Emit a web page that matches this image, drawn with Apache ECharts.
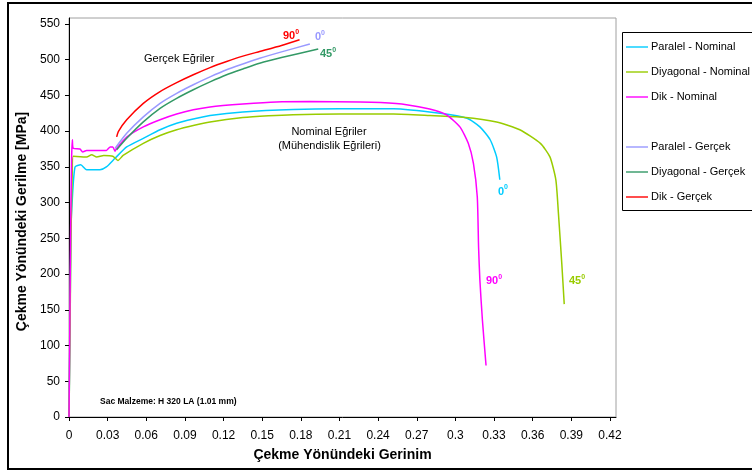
<!DOCTYPE html>
<html><head><meta charset="utf-8">
<script src="https://cdn.jsdelivr.net/npm/echarts@6/dist/echarts.min.js"></script>
<style>html,body{margin:0;padding:0;background:#fff}#c{width:752px;height:474px}</style>
</head><body><div id="c"></div>
<script>
// ---- data (strain [-], stress [MPa]) ----
const xTicks = [0,0.03,0.06,0.09,0.12,0.15,0.18,0.21,0.24,0.27,0.3,0.33,0.36,0.39,0.42];
const yTicks = [0,50,100,150,200,250,300,350,400,450,500,550];

const paralelNominalStrain = [0,0.0008,0.0015,0.0026,0.0047,0.0091,0.0137,0.024,0.029,0.0357,0.0448,0.0577,0.0707,0.0836,0.0965,0.1095,0.135,0.174,0.21,0.252,0.288,0.309,0.319,0.327,0.332,0.3345];
const paralelNominalStress = [0,130,260,306,350,353,346,346,350,362,378,390,402,411,417,422,427,430.5,431.5,431.5,425,418,406,388,364,332];

const diyagonalNominalStrain = [0,0.0008,0.0015,0.0025,0.0033,0.0137,0.0176,0.0215,0.027,0.034,0.038,0.042,0.0577,0.0707,0.0836,0.0965,0.1095,0.135,0.155,0.174,0.21,0.252,0.28,0.306,0.332,0.35,0.366,0.3734,0.378,0.38,0.3826,0.3845];
const diyagonalNominalStress = [0,120,250,340,365,364,367,364,366,365,359,366,383,394,402,408,413,419,421.5,423,424,424,422,419.6,413,402,383,364,332,285,215,158];

const dikNominalStrain = [0,0.0005,0.0012,0.002,0.0026,0.0033,0.0085,0.0106,0.0137,0.029,0.032,0.034,0.0357,0.037,0.045,0.0577,0.0707,0.0836,0.0965,0.1095,0.135,0.161,0.187,0.226,0.242,0.262,0.28,0.293,0.3035,0.31,0.314,0.317,0.318,0.319,0.321,0.3238];
const dikNominalStress = [0,100,250,360,388,376,375,371,373,373,378,378,372,376,392,406,416,424,430,434,438,441,441.5,441,440,437,431,423,406,383,355,308,238,192,135,72];

const paralelGercekStrain = [0.0357,0.0448,0.0577,0.0707,0.0836,0.0965,0.1095,0.1224,0.135,0.148,0.165,0.187];
const paralelGercekStress = [376,397,420,439,453,465,476,486,494,502,511,522];

const diyagonalGercekStrain = [0.037,0.0448,0.0577,0.0707,0.0836,0.0965,0.1095,0.1224,0.135,0.148,0.165,0.1935];
const diyagonalGercekStress = [374,390,413,432,446,458,469,479,487,495,503,515];

const dikGercekStrain = [0.037,0.0383,0.0448,0.0577,0.0707,0.0836,0.0965,0.1095,0.1224,0.135,0.148,0.165,0.179];
const dikGercekStress = [392,399.5,416,439,455.5,468,479,489,497.5,505,511.5,520,528];

const names1 = ['Paralel - Nominal','Diyagonal - Nominal','Dik - Nominal'];
const names2 = ['Paralel - Gerçek','Diyagonal - Gerçek','Dik - Gerçek'];
const colors = {
  'Paralel - Nominal':'#00CCFF','Diyagonal - Nominal':'#99CC00','Dik - Nominal':'#FF00FF',
  'Paralel - Gerçek':'#9999FF','Diyagonal - Gerçek':'#339966','Dik - Gerçek':'#FF0000'
};

const pairs = (xs, ys) => xs.map((x,i)=>[x, ys[i]]);
const seriesDefs = [
  ['Paralel - Nominal', pairs(paralelNominalStrain, paralelNominalStress)],
  ['Diyagonal - Nominal', pairs(diyagonalNominalStrain, diyagonalNominalStress)],
  ['Dik - Nominal', pairs(dikNominalStrain, dikNominalStress)],
  ['Paralel - Gerçek', pairs(paralelGercekStrain, paralelGercekStress)],
  ['Diyagonal - Gerçek', pairs(diyagonalGercekStrain, diyagonalGercekStress)],
  ['Dik - Gerçek', pairs(dikGercekStrain, dikGercekStress)]
];

const FONT = 'Liberation Sans, Arial, sans-serif';
const chart = echarts.init(document.getElementById('c'), null, {renderer:'canvas'});

function txt(x, y, text, opts) {
  return Object.assign({type:'text', x, y, silent:true, style: Object.assign({
    text, fill:'#000', fontSize:11, fontFamily:FONT, align:'left', verticalAlign:'middle'
  }, opts || {})});
}
function deg(x, cy, num, color) {
  const w = num.length * 6.1;
  return [
    txt(x, cy, num, {fill:color, fontSize:11, fontWeight:'bold'}),
    txt(x + w, cy - 4, '0', {fill:color, fontSize:7, fontWeight:'bold'})
  ];
}

const lineIcon = 'path://M0,0 L22,0 L22,1.4 L0,1.4 Z';
const legendBase = {
  orient:'vertical', left:626, padding:0, itemWidth:22, itemHeight:1.5, itemGap:11,
  icon: lineIcon,
  textStyle:{fontFamily:FONT, fontSize:11, color:'#000', lineHeight:14, padding:[0,0,0,-2]},
  selectedMode:false
};

chart.setOption({
  animation:false,
  backgroundColor:'#fff',
  grid:{left:69, right:136, top:18, bottom:57, show:true, borderColor:'#a0a0a0', borderWidth:1, outerBoundsMode:'none', containLabel:false},
  legend:[
    Object.assign({}, legendBase, {top:40, data:names1}),
    Object.assign({}, legendBase, {top:140, data:names2})
  ],
  xAxis:{
    type:'value', min:0, max:0.4247,
    name:'Çekme Yönündeki Gerinim', nameLocation:'middle', nameGap:31,
    nameTextStyle:{fontFamily:FONT, fontSize:14, fontWeight:'bold', color:'#000'},
    axisLine:{show:true, onZero:false, lineStyle:{color:'#000', width:1}},
    axisTick:{show:true, length:4, inside:false, customValues:xTicks, lineStyle:{color:'#000'}},
    axisLabel:{customValues:xTicks, margin:13, fontFamily:FONT, fontSize:12, color:'#000',
      formatter:(v)=>String(parseFloat(v.toFixed(2)))},
    splitLine:{show:false}
  },
  yAxis:{
    type:'value', min:0, max:558.4,
    name:'Çekme Yönündeki Gerilme [MPa]', nameLocation:'middle', nameGap:39,
    nameTextStyle:{fontFamily:FONT, fontSize:14, fontWeight:'bold', color:'#000', padding:[0,0,0,-8]},
    axisLine:{show:true, onZero:false, lineStyle:{color:'#000', width:1}},
    axisTick:{show:true, length:4, inside:false, customValues:yTicks, lineStyle:{color:'#000'}},
    axisLabel:{customValues:yTicks, margin:9, fontFamily:FONT, fontSize:12, color:'#000'},
    splitLine:{show:false}
  },
  series: seriesDefs.map(([name, data]) => ({
    name, type:'line', data, symbol:'none', smooth:0.2,
    lineStyle:{color:colors[name], width:1.5}, itemStyle:{color:colors[name]},
    emphasis:{disabled:true}
  })),
  graphic:[
    {type:'rect', silent:true, shape:{x:8, y:3, width:800, height:466}, style:{fill:'none', stroke:'#000', lineWidth:2}},
    {type:'rect', silent:true, shape:{x:622.5, y:32.5, width:140, height:178}, style:{fill:'none', stroke:'#000', lineWidth:1}},
    txt(144, 59, 'Gerçek Eğriler'),
    txt(329, 132, 'Nominal Eğriler', {align:'center'}),
    txt(329.5, 146, '(Mühendislik Eğrileri)', {align:'center'}),
    txt(100, 402, 'Sac Malzeme: H 320 LA (1.01 mm)', {fontSize:8.5, fontWeight:'bold'}),
    ...deg(283, 36, '90', '#FF0000'),
    ...deg(315, 37, '0', '#9999FF'),
    ...deg(320, 54, '45', '#339966'),
    ...deg(498, 191.5, '0', '#00CCFF'),
    ...deg(486, 281, '90', '#FF00FF'),
    ...deg(569, 281, '45', '#99CC00')
  ]
});
</script></body></html>
